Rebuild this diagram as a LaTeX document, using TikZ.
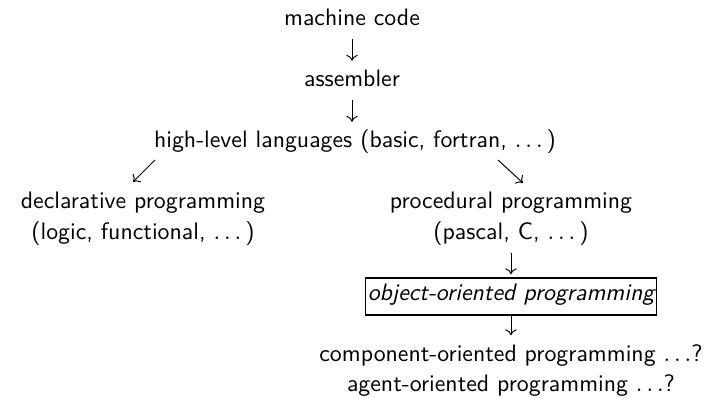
\documentclass[tikz,border=0pt]{standalone}
\usetikzlibrary{arrows.meta}
\tikzset{
>={Computer Modern Rightarrow[length=2.5pt,width=4.8pt]},
x=0.42pt, y=-0.42pt,
every node/.style={font=\sffamily, inner sep=0pt, anchor=base},
lead/.style={->, shorten <=5.5pt, shorten >=11pt},
branch/.style={->},
oobox/.style={draw, line width=0.7pt, inner xsep=1pt, inner ysep=0.5pt,
  text height=9pt, text depth=5.5pt, font=\sffamily\itshape},
}
\newcommand{\dotsmore}{$\ldots$\,}

\begin{document}
\begin{tikzpicture}
    \useasboundingbox (0,0) rectangle (715,398);

    % main line
    \node (mc)  at (352,26)  {machine code};
    \node (asm) at (352,87)  {assembler};
    \node (hl)  at (355,148) {high-level languages (basic, fortran, \dotsmore)};

    % the two branches
    \node (decl)  at (143,209)   {declarative programming};
    \node (decl2) at (143,239.5) {(logic, functional, \dotsmore)};
    \node (proc)  at (511,209)   {procedural programming};
    \node (proc2) at (511,239.5) {(pascal, C, \dotsmore)};

    \node[oobox] (oop) at (511,300.5) {object-oriented programming};
    \node (cop) at (511,361.5) {component-oriented programming $\ldots$?};
    \node (aop) at (511,392)   {agent-oriented programming $\ldots$?};

    \draw[lead] (mc.base) -- (asm.base);
    \draw[lead] (asm.base) -- (hl.base -| asm.base);
    \draw[branch] ([shift={(12,-49)}]decl.base) -- ++(-22,22);
    \draw[branch] ([shift={(-13,-49)}]proc.base) -- ++(25,23);
    \draw[lead] (proc2.base) -- (oop.base);
    \draw[lead] (oop.base) -- (cop.base);

\end{tikzpicture}
\end{document}
